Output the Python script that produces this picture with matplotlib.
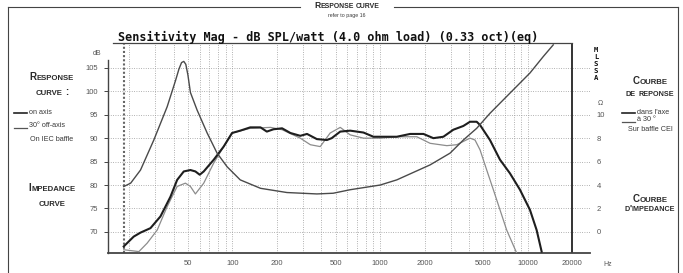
import numpy as np
import matplotlib.pyplot as plt
from matplotlib.lines import Line2D
from matplotlib.ticker import NullLocator, FixedLocator, FixedFormatter

# on-axis response (dB SPL)
on_freq = [18.4, 21.5, 23.9, 27.9, 32.6, 38.1, 42.3, 46.9, 52.0, 56.2, 60.1, 64.0,
           74.8, 87.3, 99.5, 113, 132, 155, 171, 190, 217, 247, 288, 320, 373, 436,
           470, 537, 627, 771, 901, 1053, 1296, 1595, 1963, 2291, 2677, 3128, 3654,
           4055, 4500, 4742, 5534, 6471, 7554, 8831, 10320, 11450, 12380]
on_db = [66.9, 69.0, 69.85, 70.8, 73.3, 77.5, 81.1, 82.9, 83.2, 82.9, 82.2, 82.9,
         85.4, 88.2, 91.1, 91.6, 92.3, 92.3, 91.4, 91.9, 92.1, 91.1, 90.5, 90.9, 89.8, 89.6,
         90.0, 91.4, 91.6, 91.2, 90.3, 90.3, 90.3, 90.9, 90.9, 90.0, 90.3, 91.8, 92.6,
         93.5, 93.5, 92.8, 89.6, 85.4, 82.5, 79.0, 74.7, 70.4, 65.8]

# 30 deg off-axis response (dB SPL)
off_freq = [18.4, 23.3, 26.5, 31.0, 36.2, 42.3, 48.1, 52.0, 56.2, 64.0, 74.8, 87.3,
            99.5, 132, 181, 217, 288, 337, 393, 459, 537, 627, 771, 1000, 1296, 1770,
            2178, 2824, 3298, 3654, 4055, 4385, 4742, 5261, 5834, 6471, 7180, 8390]
off_db = [66.2, 65.8, 67.6, 70.4, 75.4, 79.7, 80.4, 79.7, 78.1, 80.4, 84.7, 88.2,
          91.1, 92.1, 92.3, 91.8, 90.0, 88.6, 88.2, 91.1, 92.3, 90.7, 90.0, 90.0, 90.3, 90.3,
          88.9, 88.4, 88.6, 89.3, 90.0, 89.6, 87.5, 83.2, 79.0, 74.7, 70.4, 65.5]

# impedance (ohm)
imp_freq = [18.4, 20.5, 23.9, 29.4, 36.2, 41.2, 43.5, 45.3, 46.9, 48.4, 50.0, 52.0,
            57.7, 67.5, 78.8, 92.1, 113, 155, 234, 373, 481, 627, 1000, 1296, 2178,
            2971, 3654, 4500, 5534, 7554, 10320, 12690, 14830]
imp_ohm = [3.87, 4.16, 5.28, 7.84, 10.68, 12.9, 13.9, 14.45, 14.55, 14.3, 13.4, 11.9,
           10.4, 8.44, 6.72, 5.56, 4.44, 3.72, 3.36, 3.24, 3.3, 3.6, 4.0, 4.44, 5.72,
           6.72, 7.84, 8.84, 10.12, 11.84, 13.56, 14.96, 15.96]

db_ticks = [70, 75, 80, 85, 90, 95, 100, 105]
ohm_ticks = [0, 2, 4, 6, 8, 10]
hz_ticks = [50, 100, 200, 500, 1000, 2000, 5000, 10000, 20000]
grid_freqs = [20, 30, 40, 50, 60, 70, 80, 90, 100, 200, 300, 400, 500, 600, 700, 800,
              900, 1000, 2000, 3000, 4000, 5000, 6000, 7000, 8000, 9000, 10000]

W, H = 683, 273
fig = plt.figure(figsize=(W / 100, H / 100), dpi=100)
fig.patch.set_facecolor('white')
SANS = 'Liberation Sans'
TXT = '#3a3a3a'

ax = fig.add_axes([108 / W, 1 - 253 / H, (590 - 108) / W, (253 - 43) / H])
ax.set_xscale('log')
ax.set_xlim(14.4, 26300)
ax.set_ylim(65.5, 110.3)
ax.set_facecolor('none')

for f in grid_freqs:
    ax.axvline(f, color='#999', ls=(0, (1, 1.8)), lw=0.6, zorder=1)
for v in db_ticks:
    ax.axhline(v, color='#999', ls=(0, (1, 1.8)), lw=0.6, zorder=1)
ax.axvline(18.4, color='#666', ls=(0, (1, 1)), lw=1.5, zorder=1)
ax.axvline(20000, color='#333', lw=1.4, zorder=2)

ax.plot(off_freq, off_db, color='#8c8c8c', lw=0.9, zorder=3)
ax.plot(on_freq, on_db, color='#1e1e1e', lw=1.5, zorder=4)

ax.spines['right'].set_visible(False)
ax.spines['left'].set_bounds(65.5, 106.7)
ax.spines['top'].set_bounds(15.6, 20000)
for s in ['left', 'bottom', 'top']:
    ax.spines[s].set_color('#444')
ax.spines['bottom'].set_linewidth(1.3)
ax.spines['left'].set_linewidth(1.0)
ax.spines['top'].set_linewidth(0.9)

ax2 = ax.twinx()
ax2.set_ylim((65.5 - 70) / 2.5, (110.3 - 70) / 2.5)
ax2.plot(imp_freq, imp_ohm, color='#4a4a4a', lw=1.0, zorder=3)
for s in ax2.spines.values():
    s.set_visible(False)
ax2.set_yticks(ohm_ticks)
ax2.set_yticklabels([str(v) for v in ohm_ticks])
ax2.tick_params(axis='y', length=0, pad=5, labelsize=5.5, labelcolor='#555')
for lab in ax2.get_yticklabels():
    lab.set_family(SANS)

ax.set_yticks(db_ticks)
ax.set_yticklabels([str(v) for v in db_ticks])
ax.xaxis.set_major_locator(FixedLocator(hz_ticks))
ax.xaxis.set_major_formatter(FixedFormatter([str(v) for v in hz_ticks]))
ax.xaxis.set_minor_locator(NullLocator())
ax.tick_params(axis='y', direction='out', length=3, width=0.7, pad=4,
               labelsize=5.5, labelcolor='#555', color='#444')
ax.tick_params(axis='x', length=0, pad=5, labelsize=5.5, labelcolor='#555')
for lab in ax.get_xticklabels() + ax.get_yticklabels():
    lab.set_family(SANS)


def px(x, y):
    return x / W, 1 - y / H


def ftext(x, y, s, **kw):
    kw.setdefault('family', SANS)
    kw.setdefault('color', TXT)
    fig.text(*px(x, y), s, **kw)


def small_caps(x, y, s, size, color='#2a2a2a'):
    # capitals drawn full size, lowercase as smaller capitals, centred on x
    r = fig.canvas.get_renderer()
    runs = []
    for ch in s:
        big = not ch.islower()
        if runs and runs[-1][1] == big and ch != ' ' and runs[-1][0][-1] != ' ':
            runs[-1][0] += ch
        else:
            runs.append([ch, big])
    arts = []
    total = 0
    for chunk, big in runs:
        if chunk == ' ':
            arts.append(None)
            total += size * 0.35
            continue
        t = fig.text(0, 0, chunk.upper(), fontsize=size if big else size * 0.8,
                     fontweight='bold', family=SANS, color=color,
                     va='baseline', ha='left', transform=None)
        w = t.get_window_extent(r).width
        arts.append((t, w))
        total += w
    cx = x - total / 2
    for a in arts:
        if a is None:
            cx += size * 0.35
            continue
        t, w = a
        t.set_position((cx, H - y))
        cx += w


# title
fig.text(*px(328, 41), 'Sensitivity Mag - dB SPL/watt (4.0 ohm load) (0.33 oct)(eq)',
         family='DejaVu Sans Mono', fontweight='bold', fontsize=8.5, color='#111',
         ha='center', va='baseline')

# header and frame
small_caps(347, 8, 'Response curve', 6.2)
ftext(347, 17, 'refer to page 16', fontsize=3.8, ha='center', va='baseline')
fig.add_artist(Line2D([8 / W, 300 / W], [1 - 6.5 / H] * 2, color='#444', lw=0.8))
fig.add_artist(Line2D([394 / W, 678 / W], [1 - 6.5 / H] * 2, color='#444', lw=0.8))
fig.add_artist(Line2D([8 / W] * 2, [1 - 6.5 / H, 0], color='#444', lw=0.8))
fig.add_artist(Line2D([678 / W] * 2, [1 - 6.5 / H, 0], color='#444', lw=0.8))

ftext(97, 55, 'dB', fontsize=5, ha='center', va='baseline', color='#555')
ftext(603, 266, 'Hz', fontsize=5, ha='left', va='baseline', color='#555')
ftext(600, 105, 'Ω', fontsize=5, ha='center', va='baseline', color='#555')
for i, ch in enumerate('MLSSA'):
    fig.text(*px(596, 52 + i * 7), ch, family='DejaVu Sans Mono', fontweight='bold',
             fontsize=5.2, color='#111', ha='center', va='baseline')

# left legend
small_caps(52, 80, 'Response', 7)
small_caps(52, 95, 'curve :', 7)
fig.add_artist(Line2D([14 / W, 27 / W], [1 - 113 / H] * 2, color='#222', lw=1.2))
ftext(29, 114, 'on axis', fontsize=5.2, va='baseline')
fig.add_artist(Line2D([14 / W, 27 / W], [1 - 128 / H] * 2, color='#555', lw=0.9))
ftext(29, 127, '30° off-axis', fontsize=5.2, va='baseline')
ftext(52, 141, 'On IEC baffle', fontsize=5.2, va='baseline', ha='center')
small_caps(52, 191, 'Impedance', 7)
small_caps(52, 206, 'curve', 7)

# right legend
small_caps(650, 84, 'Courbe', 7)
small_caps(650, 96, 'de reponse', 6.5)
fig.add_artist(Line2D([622 / W, 635 / W], [1 - 113 / H] * 2, color='#222', lw=1.2))
ftext(637, 114, 'dans l\'axe', fontsize=5.2, va='baseline')
fig.add_artist(Line2D([622 / W, 635 / W], [1 - 122 / H] * 2, color='#555', lw=0.9))
ftext(637, 121, 'à 30 °', fontsize=5.2, va='baseline')
ftext(650, 131, 'Sur baffle CEI', fontsize=5.2, va='baseline', ha='center')
small_caps(650, 202, 'Courbe', 7)
small_caps(650, 211, 'd\'impedance', 6.5)

fig.savefig('out.png', dpi=100, facecolor='white')
